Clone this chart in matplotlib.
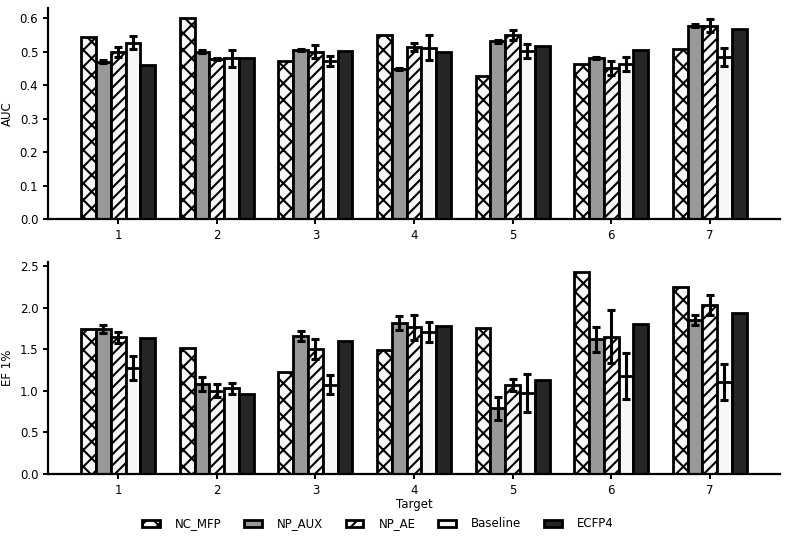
import numpy as np
import matplotlib.pyplot as plt

# data
targets = [1, 2, 3, 4, 5, 6, 7]
methods = ["NC_MFP", "NP_AUX", "NP_AE", "Baseline", "ECFP4"]

auc_nc_mfp = [0.543, 0.600, 0.472, 0.550, 0.427, 0.464, 0.509]
auc_np_aux = [0.470, 0.500, 0.506, 0.448, 0.531, 0.481, 0.578]
auc_np_aux_err = [0.004, 0.004, 0.003, 0.004, 0.004, 0.004, 0.005]
auc_np_ae = [0.500, 0.478, 0.500, 0.515, 0.550, 0.451, 0.578]
auc_np_ae_err = [0.015, 0.004, 0.020, 0.012, 0.016, 0.021, 0.020]
auc_baseline = [0.527, 0.480, 0.473, 0.512, 0.501, 0.464, 0.484]
auc_baseline_err = [0.020, 0.025, 0.015, 0.038, 0.021, 0.021, 0.028]
auc_ecfp4 = [0.460, 0.480, 0.503, 0.500, 0.518, 0.506, 0.567]

ef_nc_mfp = [1.742, 1.513, 1.220, 1.490, 1.758, 2.432, 2.244]
ef_np_aux = [1.740, 1.076, 1.657, 1.818, 0.787, 1.618, 1.850]
ef_np_aux_err = [0.050, 0.084, 0.060, 0.086, 0.134, 0.152, 0.060]
ef_np_ae = [1.642, 1.000, 1.497, 1.762, 1.068, 1.650, 2.030]
ef_np_ae_err = [0.070, 0.080, 0.120, 0.155, 0.076, 0.320, 0.124]
ef_baseline = [1.270, 1.028, 1.072, 1.710, 0.975, 1.180, 1.108]
ef_baseline_err = [0.145, 0.064, 0.116, 0.120, 0.225, 0.275, 0.215]
ef_ecfp4 = [1.640, 0.955, 1.600, 1.780, 1.128, 1.798, 1.930]

plt.rcParams['font.family'] = 'DejaVu Sans'
plt.rcParams['font.size'] = 8.5
plt.rcParams['hatch.linewidth'] = 1.5

fills = ['#f7f7f7', '#999999', '#f7f7f7', '#f7f7f7', '#262626']
hatches = ['xx', None, '///', None, None]
width = 0.15
x = np.array(targets)

fig = plt.figure(figsize=(7.87, 5.44), dpi=100)
ax1 = fig.add_axes([0.061, 0.597, 0.93, 0.388])
ax2 = fig.add_axes([0.061, 0.129, 0.93, 0.390])

def draw(ax, series, errs, ylabel):
    bars = []
    for i, vals in enumerate(series):
        b = ax.bar(x + (i - 2) * width, vals, width, color=fills[i],
                   edgecolor='black', linewidth=2, hatch=hatches[i],
                   label=methods[i])
        bars.append(b)
        if errs[i] is not None:
            ax.errorbar(x + (i - 2) * width, vals, yerr=errs[i], fmt='none',
                        ecolor='black', elinewidth=2.2, capsize=3, capthick=2.2)
    ax.spines['top'].set_visible(False)
    ax.spines['right'].set_visible(False)
    ax.spines['left'].set_linewidth(1.6)
    ax.spines['bottom'].set_linewidth(1.6)
    ax.tick_params(width=1.4, length=3.5)
    ax.set_xticks(x)
    ax.set_ylabel(ylabel)
    return bars

draw(ax1, [auc_nc_mfp, auc_np_aux, auc_np_ae, auc_baseline, auc_ecfp4],
     [None, auc_np_aux_err, auc_np_ae_err, auc_baseline_err, None], 'AUC')
ax1.set_yticks([0.0, 0.1, 0.2, 0.3, 0.4, 0.5, 0.6])

bars = draw(ax2, [ef_nc_mfp, ef_np_aux, ef_np_ae, ef_baseline, ef_ecfp4],
            [None, ef_np_aux_err, ef_np_ae_err, ef_baseline_err, None], 'EF 1%')
ax2.set_yticks([0.0, 0.5, 1.0, 1.5, 2.0, 2.5])
ax2.set_xlabel('Target', labelpad=1)

fig.legend(handles=bars, labels=methods, loc='center', ncol=5,
           bbox_to_anchor=(0.48, 0.037), frameon=False, handlelength=1.5,
           handletextpad=1.3, columnspacing=1.9, handleheight=0.5)

plt.savefig('out.png', dpi=100)
